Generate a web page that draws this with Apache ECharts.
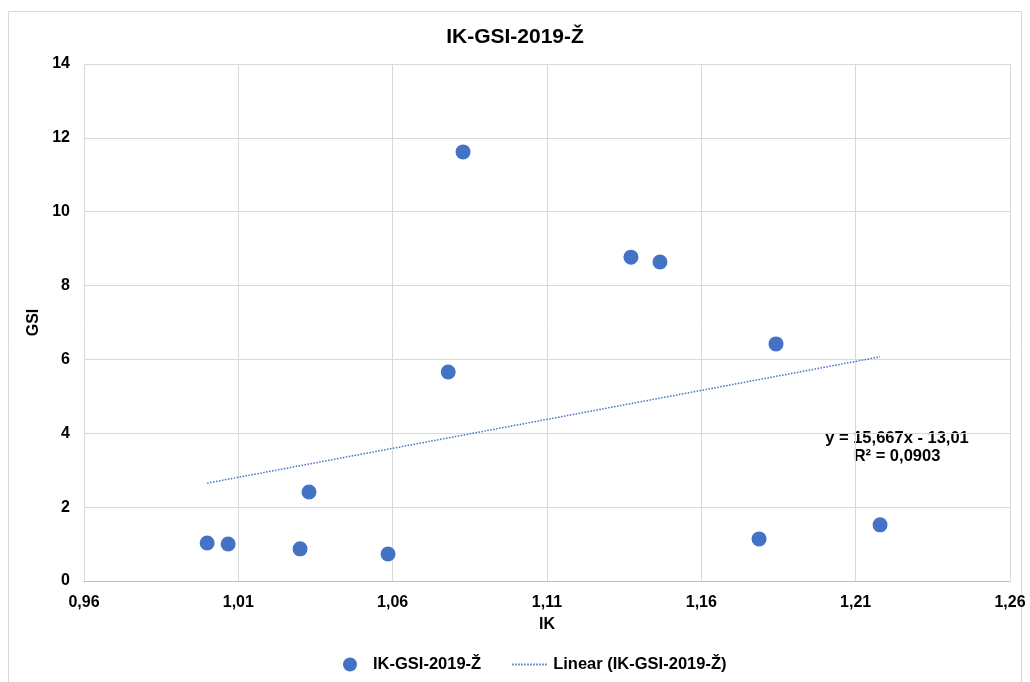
<!DOCTYPE html>
<html>
<head>
<meta charset="utf-8">
<script src="https://cdn.jsdelivr.net/npm/echarts@6/dist/echarts.min.js"></script>
<style>
  html, body { margin: 0; padding: 0; background: #fff; }
  #chart { width: 1030px; height: 682px; }
</style>
</head>
<body>
<div id="chart"></div>
<script>
// body podatki (IK, GSI)
const ikValues = [0.9999, 1.0067, 1.0300, 1.0329, 1.0585, 1.0780, 1.0828, 1.1372, 1.1466, 1.1787, 1.1842, 1.2179];
const gsiValues = [1.03, 1.00, 0.87, 2.41, 0.73, 5.66, 11.62, 8.77, 8.64, 1.14, 6.42, 1.52];
// linearni trend - krajni točki
const trendX = [0.9999, 1.2179];
const trendY = [2.65, 6.07];

const seriesName = 'IK-GSI-2019-Ž';
const trendName = 'Linear (IK-GSI-2019-Ž)';

const points = ikValues.map((x, i) => [x, gsiValues[i]]);
const trendPoints = trendX.map((x, i) => [x, trendY[i]]);

const fontBase = 'Liberation Sans, Arial, sans-serif';
const blue = '#4472c4';

const chart = echarts.init(document.getElementById('chart'));
chart.setOption({
  animation: false,
  textStyle: { fontFamily: fontBase },
  graphic: [
    { // okvir
      type: 'rect',
      shape: { x: 8.5, y: 11.5, width: 1013, height: 680 },
      style: { fill: 'none', stroke: '#d9d9d9', lineWidth: 1 },
      silent: true
    },
    { // enačba trenda
      type: 'text',
      x: 897, y: 429,
      style: {
        text: 'y = 15,667x - 13,01\nR² = 0,0903',
        align: 'center',
        verticalAlign: 'top',
        font: 'bold 16.5px Liberation Sans, Arial, sans-serif',
        fill: '#000',
        lineHeight: 18
      }
    }
  ],
  title: {
    text: 'IK-GSI-2019-Ž',
    left: 'center',
    top: 22,
    textStyle: { fontSize: 21, fontWeight: 'bold', color: '#000' }
  },
  legend: {
    bottom: 4,
    left: 338,
    itemGap: 30,
    itemWidth: 36,
    itemHeight: 14,
    textStyle: { fontSize: 16.5, fontWeight: 'bold', color: '#000' },
    data: [
      { name: seriesName, icon: 'circle', itemStyle: { opacity: 1 } },
      { name: trendName, itemStyle: { opacity: 0 } }
    ]
  },
  grid: { left: 84, right: 20, top: 64, bottom: 101 },
  xAxis: {
    type: 'value',
    min: 0.96,
    max: 1.26,
    interval: 0.05,
    name: 'IK',
    nameLocation: 'middle',
    nameGap: 36,
    nameTextStyle: { fontSize: 16, fontWeight: 'bold', color: '#000' },
    axisLine: { show: true, lineStyle: { color: '#bfbfbf' } },
    axisTick: { show: false },
    axisLabel: {
      fontSize: 16, fontWeight: 'bold', color: '#000', margin: 14,
      formatter: v => v.toFixed(2).replace('.', ',')
    },
    splitLine: { show: true, lineStyle: { color: '#d9d9d9' } }
  },
  yAxis: {
    type: 'value',
    min: 0,
    max: 14,
    interval: 2,
    name: 'GSI',
    nameLocation: 'middle',
    nameGap: 34,
    nameRotate: 90,
    nameTextStyle: { fontSize: 16, fontWeight: 'bold', color: '#000' },
    axisLine: { show: false },
    axisTick: { show: false },
    axisLabel: { fontSize: 16, fontWeight: 'bold', color: '#000', margin: 14 },
    splitLine: { show: true, lineStyle: { color: '#d9d9d9' } }
  },
  series: [
    {
      name: seriesName,
      type: 'scatter',
      symbolSize: 15,
      itemStyle: { color: blue, opacity: 1 },
      data: points,
      z: 3
    },
    {
      name: trendName,
      type: 'line',
      symbol: 'none',
      lineStyle: { color: blue, width: 1.5, type: [1.5, 1.5] },
      itemStyle: { color: blue },
      data: trendPoints,
      z: 2
    }
  ]
});
</script>
</body>
</html>
